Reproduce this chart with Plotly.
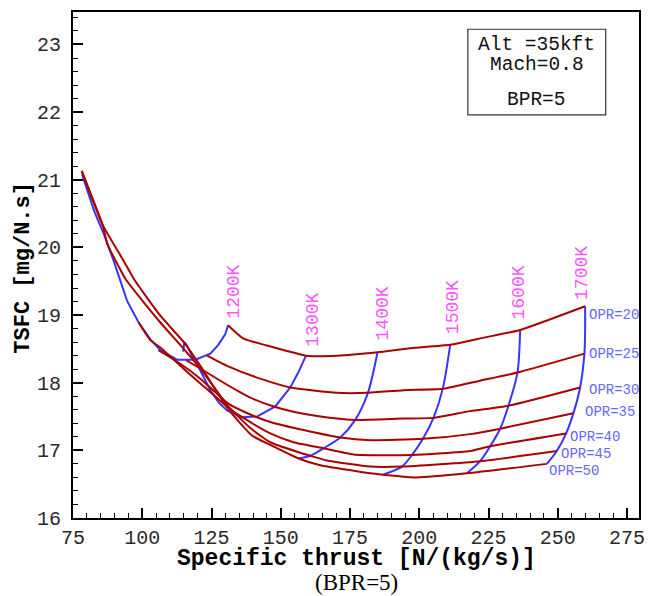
import plotly.graph_objects as go

# ---------------- data: constant-OPR lines (specific thrust [N/(kg/s)], TSFC [mg/N.s]) -------------
opr20_thrust = [130.95, 136.58, 145.02, 152.24, 159.09, 170.27, 184.92, 196.72, 211.15, 223.77, 236.40, 259.85]
opr20_tsfc = [18.85, 18.65, 18.55, 18.47, 18.40, 18.40, 18.45, 18.51, 18.56, 18.67, 18.78, 19.13]

opr25_thrust = [123.38, 130.59, 142.60, 153.43, 170.27, 181.46, 194.30, 208.51, 221.97, 235.43, 259.60]
opr25_tsfc = [18.40, 18.25, 18.06, 17.93, 17.85, 17.85, 17.89, 17.91, 18.03, 18.15, 18.43]

opr30_thrust = [115.91, 120.96, 130.59, 139.00, 148.02, 158.23, 170.27, 176.88, 194.30, 205.12, 218.36, 232.18, 258.04]
opr30_tsfc = [18.33, 18.21, 17.97, 17.78, 17.64, 17.54, 17.47, 17.45, 17.47, 17.48, 17.58, 17.66, 17.93]

opr35_thrust = [105.81, 113.74, 120.96, 131.06, 139.00, 146.21, 158.23, 171.46, 182.29, 201.30, 218.36, 229.18, 255.63]
opr35_tsfc = [18.48, 18.28, 18.06, 17.69, 17.53, 17.42, 17.30, 17.19, 17.15, 17.17, 17.24, 17.32, 17.55]

opr40_thrust = [98.70, 102.92, 106.53, 113.74, 120.96, 131.06, 136.11, 146.21, 154.62, 165.44, 176.26, 197.33, 218.36, 225.58, 253.00]
opr40_tsfc = [18.89, 18.63, 18.52, 18.25, 17.99, 17.63, 17.49, 17.25, 17.12, 17.03, 16.94, 16.93, 16.99, 17.06, 17.25]

opr45_thrust = [78.14, 85.61, 87.41, 90.30, 94.01, 99.31, 106.53, 115.19, 120.96, 131.06, 139.00, 146.21, 155.84, 160.64, 166.67, 182.29, 193.72, 221.97, 249.64]
opr45_tsfc = [21.13, 20.34, 20.05, 19.81, 19.53, 19.25, 18.89, 18.49, 18.21, 17.65, 17.33, 17.12, 16.98, 16.92, 16.85, 16.76, 16.76, 16.84, 16.99]

opr50_thrust = [78.14, 85.61, 93.29, 97.04, 106.53, 115.19, 120.96, 131.06, 139.61, 146.21, 156.42, 164.25, 182.29, 186.87, 199.13, 217.17, 246.03]
opr50_tsfc = [21.13, 20.34, 19.80, 19.53, 18.99, 18.59, 18.25, 17.61, 17.22, 17.08, 16.88, 16.78, 16.66, 16.64, 16.60, 16.66, 16.80]

# ---------------- data: constant turbine-inlet-temperature lines (OPR 20 -> 50) ----------------
t1200_thrust = [130.95, 129.98, 127.45, 124.57, 119.16, 112.55, 106.53, 102.92, 98.70, 94.52, 89.68, 86.22, 82.61, 78.28]
t1200_tsfc = [18.85, 18.72, 18.56, 18.43, 18.34, 18.34, 18.48, 18.64, 18.89, 19.21, 19.80, 20.19, 20.54, 21.08]

t1300_thrust = [159.09, 156.31, 153.43, 148.02, 141.41, 136.00, 130.59, 127.56, 124.57, 120.96, 118.54, 116.16, 115.19, 114.75]
t1300_tsfc = [18.40, 18.15, 17.93, 17.65, 17.50, 17.49, 17.59, 17.71, 17.89, 18.18, 18.35, 18.55, 18.60, 18.46]

t1400_thrust = [184.92, 181.46, 176.88, 171.46, 165.44, 160.64, 156.42]
t1400_tsfc = [18.45, 17.85, 17.45, 17.19, 17.03, 16.92, 16.88]

t1500_thrust = [211.15, 208.51, 205.12, 201.30, 197.33, 193.72, 186.87]
t1500_tsfc = [18.56, 17.92, 17.48, 17.17, 16.93, 16.76, 16.64]

t1600_thrust = [236.40, 235.43, 232.18, 229.18, 225.58, 221.97, 217.17]
t1600_tsfc = [18.78, 18.15, 17.66, 17.32, 17.06, 16.84, 16.66]

t1700_thrust = [259.85, 259.85, 259.60, 258.04, 255.63, 253.00, 249.64, 246.03]
t1700_tsfc = [19.13, 18.77, 18.43, 17.93, 17.55, 17.25, 16.99, 16.80]

# ---------------- labels ----------------
temp_labels = ["1200K", "1300K", "1400K", "1500K", "1600K", "1700K"]
temp_label_thrust = [132.97, 161.72, 186.8, 212.23, 236.15, 258.66]
temp_label_tsfc = [19.34, 18.935, 19.02, 19.12, 19.34, 19.62]

opr_labels = ["OPR=20", "OPR=25", "OPR=30", "OPR=35", "OPR=40", "OPR=45", "OPR=50"]
opr_label_thrust = [260.46, 260.68, 260.57, 259.02, 253.83, 250.47, 246.25]
opr_label_tsfc = [19.00, 18.43, 17.89, 17.56, 17.20, 16.94, 16.70]

x_ticks = [75, 100, 125, 150, 175, 200, 225, 250, 275]
y_ticks = [16, 17, 18, 19, 20, 21, 22, 23]

info_lines = ["Alt =35kft", "Mach=0.8", "BPR=5"]

RED = "#AA0000"
BLUE = "#3535FF"
MAGENTA = "#FF55FF"
OPRCOL = "#6767FF"
MONO = "Liberation Mono"

fig = go.Figure()

blue_lines = [
    (t1200_thrust, t1200_tsfc, "linear"),
    (t1300_thrust, t1300_tsfc, "linear"),
    (t1400_thrust, t1400_tsfc, "spline"),
    (t1500_thrust, t1500_tsfc, "spline"),
    (t1600_thrust, t1600_tsfc, "spline"),
    (t1700_thrust, t1700_tsfc, "spline"),
]
for xs, ys, shp in blue_lines:
    fig.add_trace(go.Scatter(x=xs, y=ys, mode="lines",
                             line=dict(color=BLUE, width=2, shape=shp, smoothing=0.8),
                             showlegend=False, hoverinfo="skip"))

red_lines = [
    (opr20_thrust, opr20_tsfc), (opr25_thrust, opr25_tsfc), (opr30_thrust, opr30_tsfc),
    (opr35_thrust, opr35_tsfc), (opr40_thrust, opr40_tsfc), (opr45_thrust, opr45_tsfc),
    (opr50_thrust, opr50_tsfc),
]
for xs, ys in red_lines:
    fig.add_trace(go.Scatter(x=xs, y=ys, mode="lines",
                             line=dict(color=RED, width=2, shape="spline", smoothing=0.5),
                             showlegend=False, hoverinfo="skip"))

annotations = []
for t, x, y in zip(temp_labels, temp_label_thrust, temp_label_tsfc):
    annotations.append(dict(x=x, y=y, xref="x", yref="y", text=t, showarrow=False,
                            textangle=-90, xanchor="center", yanchor="middle",
                            font=dict(family=MONO, size=18, color=MAGENTA)))
for t, x, y in zip(opr_labels, opr_label_thrust, opr_label_tsfc):
    annotations.append(dict(x=x, y=y, xref="x", yref="y", text=t, showarrow=False,
                            xanchor="left", yanchor="middle",
                            font=dict(family=MONO, size=14, color=OPRCOL)))

info_y = [0.9344, 0.8951, 0.8262]
for t, yy in zip(info_lines, info_y):
    annotations.append(dict(x=0.8194, y=yy, xref="paper", yref="paper", text=t, showarrow=False,
                            xanchor="center", yanchor="middle",
                            font=dict(family=MONO, size=19.5, color="#111111")))

annotations.append(dict(x=0.5, y=-0.082, xref="paper", yref="paper",
                        text="<b>Specific thrust [N/(kg/s)]</b>", showarrow=False,
                        xanchor="center", yanchor="middle",
                        font=dict(family=MONO, size=23, color="black")))
annotations.append(dict(x=-0.089, y=0.494, xref="paper", yref="paper",
                        text="<b>TSFC [mg/N.s]</b>", showarrow=False, textangle=-90,
                        xanchor="center", yanchor="middle",
                        font=dict(family=MONO, size=22, color="black")))
annotations.append(dict(x=0.5, y=-0.128, xref="paper", yref="paper",
                        text="(BPR=5)", showarrow=False,
                        xanchor="center", yanchor="middle",
                        font=dict(family="Liberation Serif", size=23, color="black")))

fig.update_layout(
    width=661, height=596,
    margin=dict(l=73, r=22, t=10, b=78),
    paper_bgcolor="white", plot_bgcolor="white",
    annotations=annotations,
    shapes=[dict(type="rect", xref="paper", yref="paper", x0=0.6976, x1=0.9412,
                 y0=0.7966, y1=0.9659, line=dict(color="#333333", width=1.2),
                 fillcolor="rgba(0,0,0,0)")],
    showlegend=False,
)

fig.update_xaxes(range=[75, 279.3], tickvals=x_ticks, ticktext=[str(v) for v in x_ticks],
                 ticks="inside", ticklen=10, tickwidth=1.5, tickcolor="black",
                 showline=True, linewidth=2, linecolor="black", mirror=True,
                 showgrid=False, zeroline=False,
                 tickfont=dict(family=MONO, size=20, color="#2a2a2a"),
                 ticklabelstandoff=0,
                 minor=dict(ticks="inside", ticklen=5, tickwidth=1, tickcolor="black",
                            dtick=5, tick0=75, showgrid=False))
fig.update_yaxes(range=[16, 23.48], tickvals=y_ticks, ticktext=[str(v) for v in y_ticks],
                 ticks="inside", ticklen=10, tickwidth=1.5, tickcolor="black",
                 showline=True, linewidth=2, linecolor="black", mirror=True,
                 showgrid=False, zeroline=False,
                 tickfont=dict(family=MONO, size=20, color="#2a2a2a"),
                 ticklabelstandoff=6,
                 minor=dict(ticks="inside", ticklen=5, tickwidth=1, tickcolor="black",
                            dtick=0.2, tick0=16, showgrid=False))

fig.write_html("out.html")
